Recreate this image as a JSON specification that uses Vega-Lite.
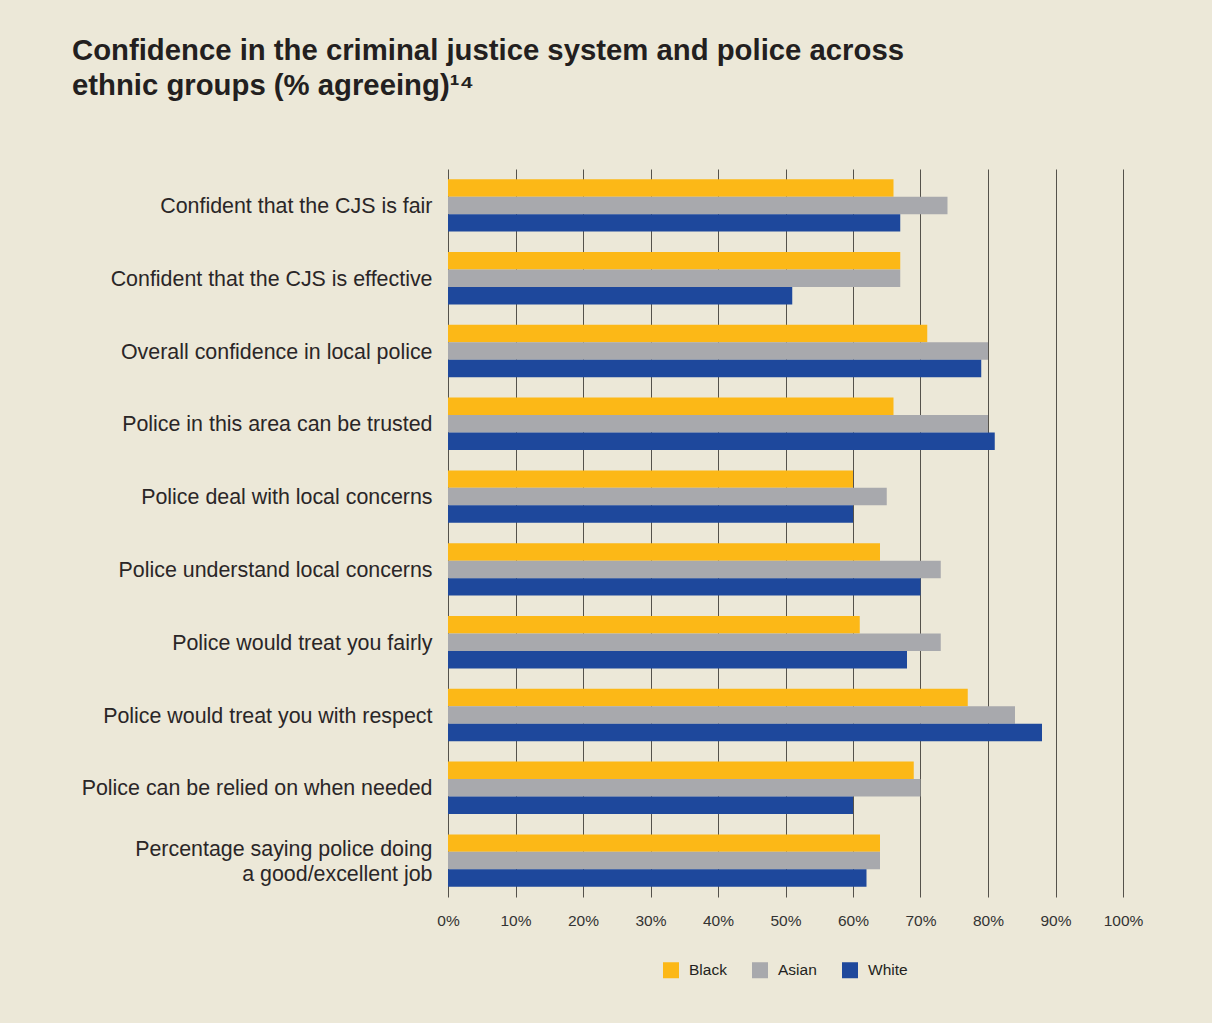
{
  "$schema": "https://vega.github.io/schema/vega-lite/v6.json",
  "autosize": {"type": "none"},
  "width": 675,
  "height": 728,
  "padding": {"left": 448, "top": 169, "right": 89, "bottom": 126},
  "background": "#ece8d8",
  "title": {
    "text": ["Confidence in the criminal justice system and police across", "ethnic groups (% agreeing)¹⁴"],
    "anchor": "start",
    "frame": "group",
    "dx": -376,
    "offset": 68,
    "font": "Liberation Sans",
    "fontSize": 29.3,
    "fontWeight": "bold",
    "color": "#231f20",
    "lineHeight": 35
  },
  "config": {
    "view": {"stroke": null},
    "font": "Liberation Sans"
  },
  "data": {
    "values": [
      {"measure": "Confident that the CJS is fair", "group": "Black", "pct": 66},
      {"measure": "Confident that the CJS is fair", "group": "Asian", "pct": 74},
      {"measure": "Confident that the CJS is fair", "group": "White", "pct": 67},
      {"measure": "Confident that the CJS is effective", "group": "Black", "pct": 67},
      {"measure": "Confident that the CJS is effective", "group": "Asian", "pct": 67},
      {"measure": "Confident that the CJS is effective", "group": "White", "pct": 51},
      {"measure": "Overall confidence in local police", "group": "Black", "pct": 71},
      {"measure": "Overall confidence in local police", "group": "Asian", "pct": 80},
      {"measure": "Overall confidence in local police", "group": "White", "pct": 79},
      {"measure": "Police in this area can be trusted", "group": "Black", "pct": 66},
      {"measure": "Police in this area can be trusted", "group": "Asian", "pct": 80},
      {"measure": "Police in this area can be trusted", "group": "White", "pct": 81},
      {"measure": "Police deal with local concerns", "group": "Black", "pct": 60},
      {"measure": "Police deal with local concerns", "group": "Asian", "pct": 65},
      {"measure": "Police deal with local concerns", "group": "White", "pct": 60},
      {"measure": "Police understand local concerns", "group": "Black", "pct": 64},
      {"measure": "Police understand local concerns", "group": "Asian", "pct": 73},
      {"measure": "Police understand local concerns", "group": "White", "pct": 70},
      {"measure": "Police would treat you fairly", "group": "Black", "pct": 61},
      {"measure": "Police would treat you fairly", "group": "Asian", "pct": 73},
      {"measure": "Police would treat you fairly", "group": "White", "pct": 68},
      {"measure": "Police would treat you with respect", "group": "Black", "pct": 77},
      {"measure": "Police would treat you with respect", "group": "Asian", "pct": 84},
      {"measure": "Police would treat you with respect", "group": "White", "pct": 88},
      {"measure": "Police can be relied on when needed", "group": "Black", "pct": 69},
      {"measure": "Police can be relied on when needed", "group": "Asian", "pct": 70},
      {"measure": "Police can be relied on when needed", "group": "White", "pct": 60},
      {"measure": "Percentage saying police doing a good/excellent job", "group": "Black", "pct": 64},
      {"measure": "Percentage saying police doing a good/excellent job", "group": "Asian", "pct": 64},
      {"measure": "Percentage saying police doing a good/excellent job", "group": "White", "pct": 62}
    ]
  },
  "mark": {"type": "bar"},
  "encoding": {
    "y": {
      "field": "measure",
      "type": "nominal",
      "sort": null,
      "scale": {"paddingInner": 0.28, "paddingOuter": 0.14},
      "axis": {
        "title": null,
        "domain": false,
        "ticks": false,
        "labelFontSize": 21.4,
        "labelColor": "#2a2627",
        "labelPadding": 16,
        "labelLimit": 420,
        "labelLineHeight": 25,
        "labelOffset": {"condition": {"test": "datum.value == 'Percentage saying police doing a good/excellent job'", "value": -11}, "value": 1.5},
        "labelExpr": "datum.value == 'Percentage saying police doing a good/excellent job' ? ['Percentage saying police doing', 'a good/excellent job'] : datum.label"
      }
    },
    "yOffset": {
      "field": "group",
      "type": "nominal",
      "sort": ["Black", "Asian", "White"],
      "scale": {"paddingInner": 0, "paddingOuter": 0}
    },
    "x": {
      "field": "pct",
      "type": "quantitative",
      "scale": {"domain": [0, 100], "nice": false},
      "axis": {
        "title": null,
        "values": [0, 10, 20, 30, 40, 50, 60, 70, 80, 90, 100],
        "labelExpr": "datum.value + '%'",
        "labelFlush": false,
        "domain": false,
        "ticks": false,
        "grid": true,
        "gridColor": "#55524b",
        "gridOpacity": 1,
        "gridWidth": 1,
        "labelFontSize": 15.5,
        "labelColor": "#333333",
        "labelPadding": 16
      }
    },
    "color": {
      "field": "group",
      "type": "nominal",
      "sort": ["Black", "Asian", "White"],
      "scale": {"domain": ["Black", "Asian", "White"], "range": ["#fcb817", "#a8a9ad", "#1e489c"]},
      "legend": {
        "title": null,
        "orient": "none",
        "direction": "horizontal",
        "legendX": 215,
        "legendY": 793,
        "symbolType": "square",
        "symbolSize": 256,
        "symbolStrokeWidth": 0,
        "symbolOpacity": 1,
        "labelFontSize": 15.5,
        "labelColor": "#231f20",
        "labelOffset": 10,
        "columnPadding": 25
      }
    }
  }
}
